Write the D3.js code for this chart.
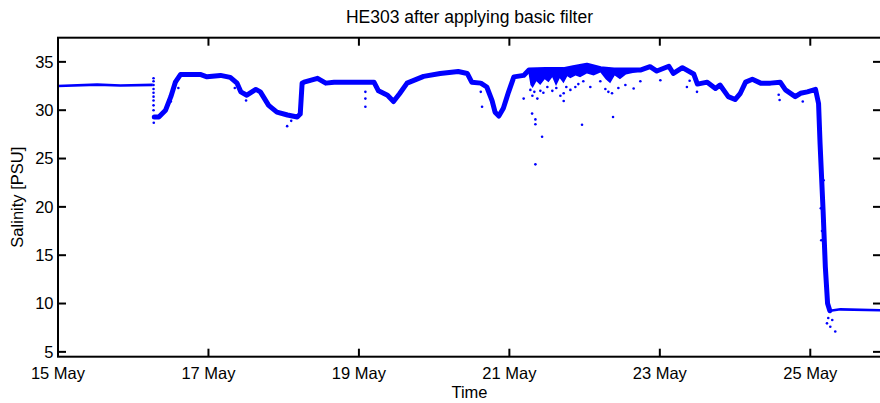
<!DOCTYPE html>
<html>
<head>
<meta charset="utf-8">
<script src="https://cdn.jsdelivr.net/npm/d3@7"></script>
<style>
body { margin: 0; background: #fff; }
text { font-family: "Liberation Sans", Arial, Helvetica, sans-serif; fill: #000; }
</style>
</head>
<body>
<svg id="chart" width="880" height="403"></svg>
<script>
var title = 'HE303 after applying basic filter';
var xLabel = 'Time';
var yLabel = 'Salinity [PSU]';

// day of May (fractional) and salinity
var days = [15.00, 15.52, 15.83, 16.26, 16.28, 16.34, 16.43, 16.50, 16.56,
    16.63, 16.89, 16.98, 17.16, 17.29, 17.38, 17.43, 17.51, 17.63, 17.69,
    17.80, 17.91, 18.05, 18.18, 18.22, 18.245, 18.27, 18.45, 18.56, 18.67,
    19.20, 19.26, 19.38, 19.46, 19.54, 19.64, 19.86, 20.08, 20.32, 20.44,
    20.50, 20.62, 20.70, 20.77, 20.81, 20.86, 20.92, 20.99, 21.06, 21.19,
    21.26, 21.48, 21.72, 21.85, 22.03, 22.21, 22.39, 22.74, 22.87, 22.96,
    23.12, 23.18, 23.30, 23.45, 23.50, 23.63, 23.74, 23.80, 23.91, 24.00,
    24.07, 24.14, 24.23, 24.34, 24.47, 24.60, 24.67, 24.80, 24.87, 24.96,
    25.07, 25.11, 25.13, 25.17, 25.20, 25.23, 25.26, 25.31, 25.40, 25.94];
var salinity = [32.50, 32.65, 32.55, 32.62, 29.30, 29.30, 30.00, 31.40, 32.90,
    33.70, 33.70, 33.45, 33.60, 33.40, 32.80, 31.90, 31.55, 32.15, 31.90,
    30.50, 29.80, 29.50, 29.30, 29.60, 32.80, 32.90, 33.30, 32.80, 32.90,
    32.90, 32.00, 31.55, 30.90, 31.70, 32.80, 33.50, 33.80, 34.00, 33.80,
    32.90, 32.80, 32.40, 31.00, 29.80, 29.40, 30.20, 31.90, 33.45, 33.60,
    34.15, 34.20, 34.20, 34.40, 34.65, 34.30, 34.15, 34.15, 34.50, 34.05,
    34.55, 33.80, 34.40, 33.75, 32.70, 32.90, 32.25, 32.60, 31.40, 31.10,
    31.75, 32.90, 33.20, 32.80, 32.80, 32.90, 32.10, 31.40, 31.75, 31.90,
    32.15, 30.70, 26.55, 19.65, 13.80, 10.00, 9.25, 9.30, 9.40, 9.30];

// dense cloud of low readings hanging under the band, 21-22 May
var cloudDays = [21.25, 21.28, 21.31, 21.36, 21.41, 21.47, 21.52, 21.57, 21.62, 21.67,
    21.72, 21.77, 21.81, 21.88, 21.94, 22.03, 22.12, 22.21, 22.28, 22.34,
    22.40, 22.47, 22.55, 22.61, 22.74];
var cloudHigh = [34.15, 34.2, 34.2, 34.2, 34.2, 34.2, 34.2, 34.2, 34.2, 34.2,
    34.2, 34.25, 34.3, 34.4, 34.5, 34.6, 34.5, 34.3, 34.2, 34.15,
    34.15, 34.15, 34.15, 34.15, 34.15];
var cloudLow = [34.0, 32.6, 32.3, 33.0, 32.6, 33.2, 32.9, 33.4, 32.5, 33.3,
    32.8, 33.5, 33.3, 33.6, 33.4, 33.8, 33.6, 33.9, 33.2, 32.8,
    33.6, 33.2, 33.7, 33.8, 34.0];

// scattered samples left off the main band
var outlierDays = [16.273, 16.47, 18.046, 19.086, 19.086, 19.086, 20.637, 21.19, 21.302, 21.346,
    21.346, 21.435, 21.346, 21.722, 21.722, 21.877, 21.966, 22.365, 22.378, 22.652,
    23.396, 23.494, 24.592, 25.14, 25.156, 25.146, 25.177, 25.222, 25.266, 25.332,
    25.239, 25.292,
    21.279, 21.306, 21.332, 21.372, 21.412, 21.452, 21.505, 21.571, 21.624, 21.678,
    21.757, 21.811, 21.917, 21.983, 22.076, 22.209, 22.276, 22.316, 22.449, 22.542,
    22.741, 23.007, 16.5, 16.6, 17.35, 17.5, 18.1, 20.62, 23.36, 24.58, 24.9,
    16.27, 16.27, 16.27, 16.27, 16.27, 16.27, 16.27, 16.27, 16.27];
var outlierSal = [28.7, 31.05, 28.35, 30.35, 31.2, 31.9, 30.35, 31.2, 29.65, 29.05,
    28.55, 27.25, 24.4, 31.75, 30.95, 32.4, 28.5, 31.75, 29.3, 32.25,
    33.05, 31.9, 31.05, 19.85, 17.5, 16.55, 22.75, 7.95, 7.6, 7.1,
    8.5, 8.3,
    32.1, 31.5, 31.9, 31.2, 32.0, 31.8, 32.4, 32.0, 32.3, 31.5,
    32.4, 32.1, 32.7, 33.0, 32.4, 33.0, 32.2, 31.9, 32.3, 32.6,
    33.0, 33.1, 30.9, 32.3, 32.3, 31.0, 28.9, 31.9, 32.4, 31.6, 30.9,
    33.3, 33.0, 32.6, 32.2, 31.8, 31.4, 31.0, 30.5, 30.0];

var xTickDays = [15, 17, 19, 21, 23, 25];
var yTicks = [5, 10, 15, 20, 25, 30, 35];
var xDomain = [15, 25.94];
var yDomain = [4.5, 37.5];

var boxLeft = 58, boxRight = 881, boxTop = 37.7, boxBottom = 356.7;
var tickLen = 8;
var blue = '#0000ff';

var svg = d3.select('#chart');

var x = d3.scaleLinear().domain(xDomain).range([boxLeft, boxRight]);
var y = d3.scaleLinear().domain(yDomain).range([boxBottom, boxTop]);

svg.append('clipPath').attr('id', 'plotclip')
    .append('rect')
    .attr('x', boxLeft).attr('y', boxTop)
    .attr('width', boxRight - boxLeft).attr('height', boxBottom - boxTop);

var plot = svg.append('g').attr('clip-path', 'url(#plotclip)');

var pts = days.map(function(d, i) { return [d, salinity[i]]; });

var line = d3.line()
    .x(function(d) { return x(d[0]); })
    .y(function(d) { return y(d[1]); });

var cloud = d3.area()
    .x(function(d) { return x(d); })
    .y0(function(d, i) { return y(cloudLow[i]); })
    .y1(function(d, i) { return y(cloudHigh[i]); });

plot.append('path')
    .datum(cloudDays)
    .attr('d', cloud)
    .attr('fill', blue);

// quiet stretches (before the gap and after the drop) are a thinner band
var calm1 = pts.filter(function(d) { return d[0] <= 16.26; });
var noisy = pts.filter(function(d) { return d[0] >= 16.28 && d[0] <= 25.26; });
var calm2 = pts.filter(function(d) { return d[0] >= 25.26; });

[calm1, calm2].forEach(function(seg) {
    plot.append('path')
        .datum(seg)
        .attr('d', line)
        .attr('fill', 'none')
        .attr('stroke', blue)
        .attr('stroke-width', 2.6)
        .attr('stroke-linejoin', 'round');
});

plot.append('path')
    .datum(noisy)
    .attr('d', line)
    .attr('fill', 'none')
    .attr('stroke', blue)
    .attr('stroke-width', 5)
    .attr('stroke-linejoin', 'round')
    .attr('stroke-linecap', 'round');

plot.selectAll('circle.out')
    .data(outlierDays.map(function(d, i) { return [d, outlierSal[i]]; }))
    .enter().append('circle')
    .attr('class', 'out')
    .attr('cx', function(d) { return x(d[0]); })
    .attr('cy', function(d) { return y(d[1]); })
    .attr('r', 1.3)
    .attr('fill', blue);

// box
svg.append('rect')
    .attr('x', boxLeft).attr('y', boxTop)
    .attr('width', boxRight - boxLeft).attr('height', boxBottom - boxTop)
    .attr('fill', 'none')
    .attr('stroke', '#000')
    .attr('stroke-width', 2);

// ticks, all pointing inward
var ticks = svg.append('g').attr('stroke', '#000').attr('stroke-width', 2);
xTickDays.forEach(function(d) {
    ticks.append('line').attr('x1', x(d)).attr('x2', x(d)).attr('y1', boxBottom).attr('y2', boxBottom - tickLen);
    ticks.append('line').attr('x1', x(d)).attr('x2', x(d)).attr('y1', boxTop).attr('y2', boxTop + tickLen);
});
yTicks.forEach(function(v) {
    ticks.append('line').attr('x1', boxLeft).attr('x2', boxLeft + tickLen).attr('y1', y(v)).attr('y2', y(v));
    ticks.append('line').attr('x1', boxRight).attr('x2', boxRight - tickLen).attr('y1', y(v)).attr('y2', y(v));
});

svg.selectAll('text.xt')
    .data(xTickDays)
    .enter().append('text')
    .attr('class', 'xt')
    .attr('x', function(d) { return x(d); })
    .attr('y', 378.5)
    .attr('text-anchor', 'middle')
    .attr('font-size', 16.5)
    .text(function(d) { return d + ' May'; });

svg.selectAll('text.yt')
    .data(yTicks)
    .enter().append('text')
    .attr('class', 'yt')
    .attr('x', 53.5)
    .attr('y', function(v) { return y(v); })
    .attr('dy', '0.36em')
    .attr('text-anchor', 'end')
    .attr('font-size', 16.5)
    .text(function(v) { return v; });

svg.append('text')
    .attr('x', (boxLeft + boxRight) / 2)
    .attr('y', 23)
    .attr('text-anchor', 'middle')
    .attr('font-size', 17.5)
    .text(title);

svg.append('text')
    .attr('x', (boxLeft + boxRight) / 2)
    .attr('y', 398)
    .attr('text-anchor', 'middle')
    .attr('font-size', 16.5)
    .text(xLabel);

svg.append('text')
    .attr('transform', 'translate(23.3,' + ((boxTop + boxBottom) / 2) + ') rotate(-90)')
    .attr('text-anchor', 'middle')
    .attr('font-size', 16.5)
    .text(yLabel);
</script>
</body>
</html>
